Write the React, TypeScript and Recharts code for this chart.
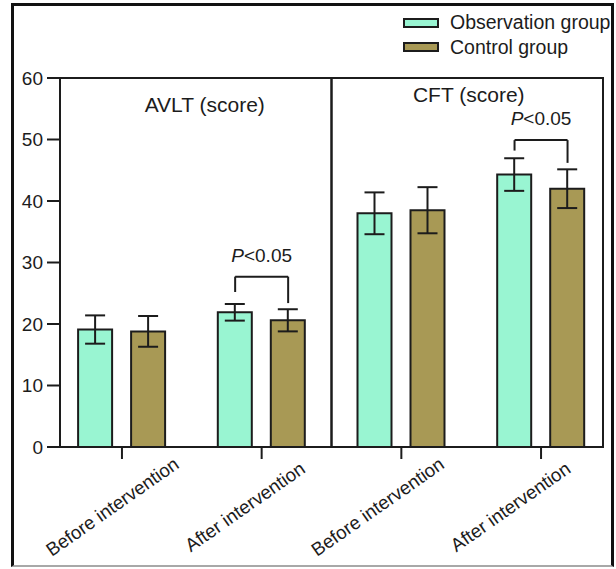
import React from 'react';
import {
  BarChart,
  Bar,
  XAxis,
  YAxis,
  ErrorBar,
  ReferenceLine,
  ReferenceArea,
  Legend,
} from 'recharts';

// ---------- data ----------
const categories = ['Before intervention', 'After intervention', 'Before intervention', 'After intervention'];
const seriesNames = ['Observation group', 'Control group'];
const observationMean = [19.1, 21.9, 38.0, 44.3];
const observationSD = [2.3, 1.35, 3.4, 2.65];
const controlMean = [18.8, 20.6, 38.5, 42.0];
const controlSD = [2.5, 1.8, 3.75, 3.15];
const yTicks = [0, 10, 20, 30, 40, 50, 60];
const panelTitles = ['AVLT (score)', 'CFT (score)'];
const sigCategoryIndex = [1, 3];
const sigTop = [27.7, 49.9];
const sigLeftEnd = [25.2, 48.2];
const sigRightEnd = [23.4, 46.2];
const sigLabel = '<0.05';

// ---------- layout ----------
const W = 616;
const H = 569;
const PLOT_LEFT = 60;
const PLOT_RIGHT = 603;
const PLOT_TOP = 78;
const PLOT_BOTTOM = 447;
const X_AXIS_H = 100;
const EDGE_PAD = 0.4435;
const X_DOMAIN: [number, number] = [1 - EDGE_PAD, categories.length + EDGE_PAD];
const PX_PER_UNIT = (PLOT_RIGHT - PLOT_LEFT) / (X_DOMAIN[1] - X_DOMAIN[0]);
const BAR_SIZE = 34;
const BAR_GAP = 19;
const BAR_OFFSET = (BAR_SIZE + BAR_GAP) / 2 / PX_PER_UNIT;
const PANEL_SPLIT = 2.5;
const FONT = '"Liberation Sans", Arial, Helvetica, sans-serif';
const INK = '#1c1c1c';
const OBS_COLOR = '#99f5d2';
const CTRL_COLOR = '#a89955';
const LABEL_DX = [-6, -13, -20, -27];
const LABEL_ANGLE = -35;

const data = categories.map((label, i) => ({
  x: i + 1,
  label,
  obs: observationMean[i],
  obsErr: observationSD[i],
  ctrl: controlMean[i],
  ctrlErr: controlSD[i],
}));

const xTickValues = categories.map((_, i) => i + 1);

const XTick = (props: any) => {
  const { x, y, payload } = props;
  const idx = Math.round(payload.value) - 1;
  const label = categories[idx];
  const ax = LABEL_DX[idx] ?? -15;
  const ay = 51;
  return (
    <g transform={`translate(${x},${y})`}>
      <text
        x={ax}
        y={ay}
        transform={`rotate(${LABEL_ANGLE}, ${ax}, ${ay})`}
        textAnchor="middle"
        fontSize={18.7}
        fontFamily={FONT}
        fill={INK}
      >
        {label}
      </text>
    </g>
  );
};

const titleDx = [9, 1.5];
const titleBaseline = [33.5, 24];

const makeTitle = (i: number) => (props: any) => {
  const vb = props.viewBox || {};
  return (
    <text
      x={vb.x + vb.width / 2 + titleDx[i]}
      y={vb.y + titleBaseline[i]}
      textAnchor="middle"
      fontSize={21}
      fontFamily={FONT}
      fill={INK}
    >
      {panelTitles[i]}
    </text>
  );
};

const sigText = (props: any) => {
  const vb = props.viewBox || {};
  return (
    <text
      x={vb.x + vb.width / 2}
      y={vb.y - 15}
      textAnchor="middle"
      fontSize={19}
      fontFamily={FONT}
      fill={INK}
    >
      <tspan fontStyle="italic">P</tspan>
      {sigLabel}
    </text>
  );
};

const renderLegend = (props: any) => {
  const payload = [...(props.payload || [])].sort(
    (a: any, b: any) => seriesNames.indexOf(a.value) - seriesNames.indexOf(b.value)
  );
  return (
    <div style={{ fontFamily: FONT, fontSize: 19.5, color: INK }}>
      {payload.map((e: any) => (
        <div key={e.value} style={{ display: 'flex', alignItems: 'center', height: 24.4, whiteSpace: 'nowrap' }}>
          <span
            style={{
              display: 'inline-block',
              width: 36,
              height: 10,
              boxSizing: 'border-box',
              border: `2px solid ${INK}`,
              background: e.color || (e.payload && e.payload.fill),
              marginRight: 11,
            }}
          />
          <span>{e.value}</span>
        </div>
      ))}
    </div>
  );
};

export default function App() {
  return (
    <div style={{ position: 'absolute', left: 0, top: 0, width: W, height: H, background: '#fff' }}>
      <div
        style={{
          position: 'absolute',
          left: 11,
          top: 3,
          width: 603,
          height: 564,
          boxSizing: 'border-box',
          borderLeft: '3px solid #111',
          borderTop: '3px solid #111',
          borderRight: '3px solid #111',
          borderBottom: '2px solid #a8a8a8',
        }}
      />
      <BarChart
        width={W}
        height={H}
        data={data}
        margin={{ top: PLOT_TOP, right: W - PLOT_RIGHT, left: 0, bottom: H - PLOT_BOTTOM - X_AXIS_H }}
        barGap={BAR_GAP}
        style={{ position: 'absolute', left: 0, top: 0 }}
      >
        <XAxis
          type="number"
          dataKey="x"
          domain={X_DOMAIN}
          ticks={xTickValues}
          interval={0}
          allowDataOverflow
          height={X_AXIS_H}
          tickSize={12}
          tickMargin={2}
          tick={<XTick />}
          axisLine={{ stroke: INK, strokeWidth: 2 }}
          tickLine={{ stroke: INK, strokeWidth: 2 }}
        />
        <YAxis
          type="number"
          domain={[0, 60]}
          ticks={yTicks}
          interval={0}
          allowDataOverflow
          width={PLOT_LEFT}
          tickSize={13}
          tickMargin={4}
          tick={{ fontSize: 19, fill: INK, fontFamily: FONT }}
          axisLine={{ stroke: INK, strokeWidth: 2 }}
          tickLine={{ stroke: INK, strokeWidth: 2 }}
        />
        <ReferenceArea
          x1={X_DOMAIN[0]}
          x2={PANEL_SPLIT}
          y1={0}
          y2={60}
          fill="none"
          fillOpacity={0}
          stroke={INK}
          strokeWidth={2}
          label={makeTitle(0)}
        />
        <ReferenceArea
          x1={PANEL_SPLIT}
          x2={X_DOMAIN[1]}
          y1={0}
          y2={60}
          fill="none"
          fillOpacity={0}
          stroke={INK}
          strokeWidth={2}
          label={makeTitle(1)}
        />
        <Bar
          dataKey="obs"
          name={seriesNames[0]}
          fill={OBS_COLOR}
          stroke={INK}
          strokeWidth={2}
          barSize={BAR_SIZE}
          isAnimationActive={false}
        >
          <ErrorBar dataKey="obsErr" direction="y" width={10} stroke={INK} strokeWidth={2} />
        </Bar>
        <Bar
          dataKey="ctrl"
          name={seriesNames[1]}
          fill={CTRL_COLOR}
          stroke={INK}
          strokeWidth={2}
          barSize={BAR_SIZE}
          isAnimationActive={false}
        >
          <ErrorBar dataKey="ctrlErr" direction="y" width={10} stroke={INK} strokeWidth={2} />
        </Bar>
        {sigCategoryIndex.map((ci, k) => {
          const cx = data[ci].x;
          const xl = cx - BAR_OFFSET;
          const xr = cx + BAR_OFFSET;
          return (
            <React.Fragment key={`sig-${k}`}>
              <ReferenceLine
                segment={[
                  { x: xl, y: sigTop[k] },
                  { x: xr, y: sigTop[k] },
                ]}
                stroke={INK}
                strokeWidth={2}
                label={sigText}
              />
              <ReferenceLine
                segment={[
                  { x: xl, y: sigTop[k] },
                  { x: xl, y: sigLeftEnd[k] },
                ]}
                stroke={INK}
                strokeWidth={2}
              />
              <ReferenceLine
                segment={[
                  { x: xr, y: sigTop[k] },
                  { x: xr, y: sigRightEnd[k] },
                ]}
                stroke={INK}
                strokeWidth={2}
              />
            </React.Fragment>
          );
        })}
        <Legend
          layout="vertical"
          align="center"
          verticalAlign="middle"
          itemSorter={null as any}
          content={renderLegend}
          wrapperStyle={{ left: 403, top: 10.5, width: 212, right: 'auto', bottom: 'auto' }}
        />
      </BarChart>
    </div>
  );
}
